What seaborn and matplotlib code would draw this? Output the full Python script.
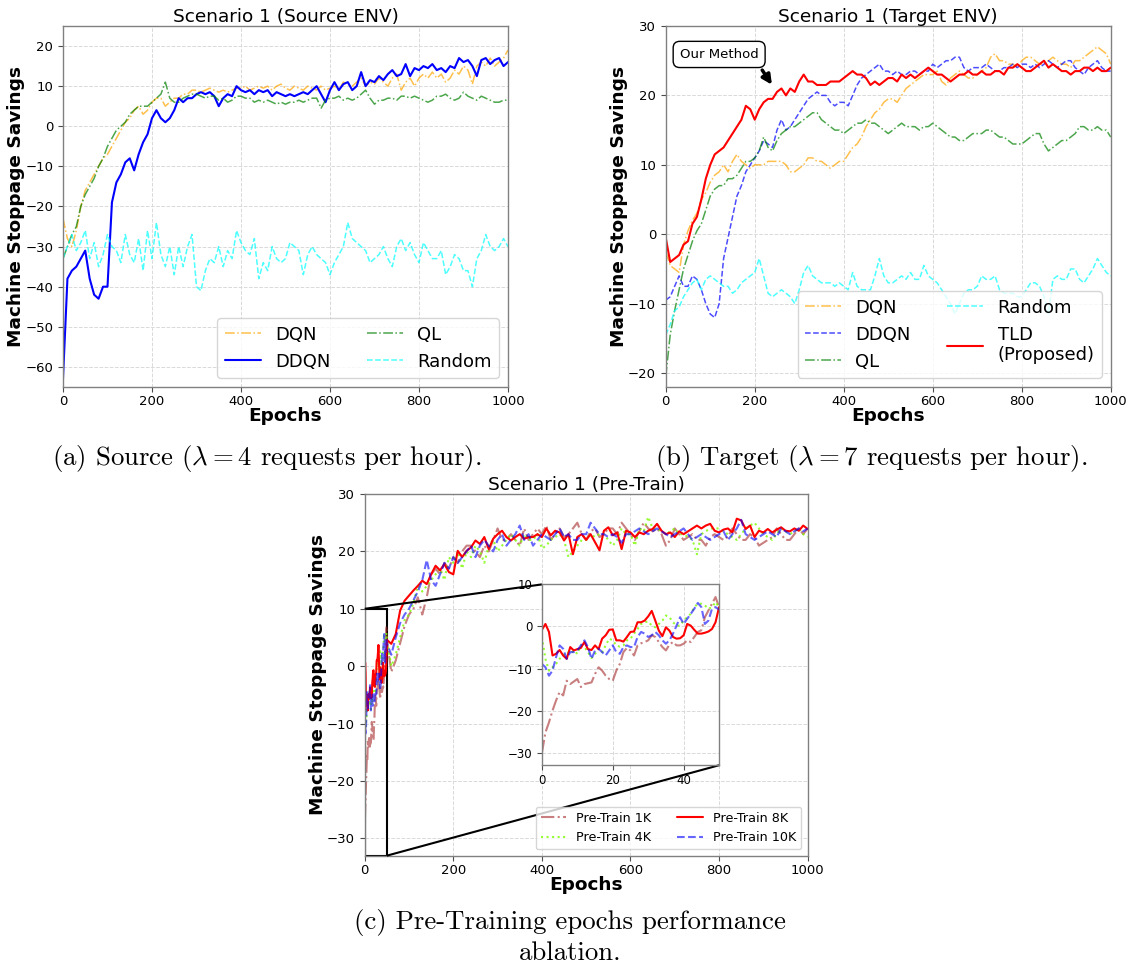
import numpy as np
import seaborn as sns
import matplotlib
matplotlib.use('Agg')
import matplotlib.pyplot as plt
from mpl_toolkits.axes_grid1.inset_locator import mark_inset

# ---------------- data ----------------
# panels (a) and (b): one value every 10 epochs
epochs = np.arange(0, 1001, 10)
# panel (c): every epoch for 0..50 (zoomed part), then every 10 epochs
zoom_epochs = np.arange(0, 51)
epochs_c = np.concatenate([zoom_epochs, np.arange(60, 1001, 10)])

# (a) Source ENV
dqn_src = [-23, -28, -30, -26, -20, -16, -14, -12, -10, -8,
           -7, -5, -3, -1, 1, 2, 4, 5, 3, 4,
           6, 7, 7, 5, 6, 7, 7, 8, 8, 9,
           9, 8.5, 9, 9.5, 9, 8.5, 9, 8.5, 9, 9.5,
           9.5, 10, 9, 9.5, 10, 9.5, 10, 9, 10, 10.5,
           9.5, 9, 10, 9.5, 9, 10, 9.5, 9, 10, 9,
           9.5, 10, 9, 11, 10.5, 10, 11, 12, 10, 11,
           10.5, 12, 11, 10, 12, 13, 9, 11, 12, 10,
           12, 13, 12, 13.5, 12, 13, 11, 12, 14, 13,
           15, 14, 10.5, 15, 16, 15, 17, 15, 16, 17,
           19]
ddqn_src = [-63, -38, -36, -35, -33, -31, -38, -42, -43, -40,
            -40, -19, -14, -12, -9, -8, -11, -7, -4, -2,
            2, 4, 2, 1, 2, 4, 7, 6, 7, 7,
            8, 8.5, 8, 8.5, 7.5, 5, 7, 8, 7.5, 10,
            9, 8.5, 9, 8, 9, 8.5, 9, 7.5, 8.5, 8,
            7.5, 8, 7.5, 8, 8.5, 8, 9, 10, 8, 6,
            9, 11, 9, 10.5, 11, 9, 10, 13.5, 10, 11.5,
            11, 12.5, 11.5, 13, 14, 12.5, 13, 15.5, 12.5, 14.5,
            14, 15, 14.5, 15.5, 14, 14.5, 13.5, 15, 14.5, 17,
            16, 16.5, 15, 12.5, 16.5, 17, 15.5, 16.5, 17, 15,
            16]
ql_src = [-33, -30, -27, -25, -20, -17, -15, -13, -10, -8,
          -5, -3, -1, 0, 1, 3, 4, 5, 5, 5,
          6, 7, 8, 11, 7, 6, 6, 7, 7.5, 8,
          8, 7.5, 7, 7.5, 7.5, 6.5, 7, 6, 6.5, 7.5,
          7.5, 7, 7, 6, 6.5, 6, 6.5, 6, 5.5, 6,
          5.5, 6, 6, 6.5, 6, 6.5, 7, 7, 4.5, 6.5,
          7, 7, 7.5, 6.5, 7, 6.5, 7, 8, 9, 7,
          5.5, 6.5, 6.5, 7, 7, 6.5, 7.5, 7.5, 7, 7.5,
          7, 6.5, 6, 6.5, 7.5, 7.5, 8, 7, 6.5, 7,
          8.5, 7.5, 7, 6.5, 7.5, 7, 6.5, 6, 6, 6.5,
          6.5]
random_src = [-33, -30, -27, -31, -29, -26, -33, -29, -35, -32,
              -27, -30, -31, -34, -27, -32, -34, -28, -36, -26,
              -33, -24, -32, -35, -30, -37, -30, -35, -30, -27,
              -40, -41, -36, -33, -34, -30, -35, -31, -33, -26,
              -29, -31, -32, -28, -38, -34, -36, -30, -33, -34,
              -33, -29, -30, -31, -37, -32, -30, -32, -33, -34,
              -37, -34, -32, -30, -24, -28, -29, -30, -31, -34,
              -33, -32, -30, -33, -35, -30, -28, -31, -29, -32,
              -34, -29, -31, -33, -33, -31, -37, -35, -32, -33,
              -36, -36, -40, -33, -31, -27, -30, -31, -30, -28,
              -30]

# (b) Target ENV
dqn_tgt = [-2.5, -4.5, -5, -5.5, -1.5, 0.5, 2, 3, 5, 6,
           7.5, 8.5, 9, 10, 9, 10.5, 11.5, 10.5, 10, 9.5,
           10, 10, 10, 10.5, 10.5, 10.5, 10.5, 10, 9, 9,
           9.5, 10, 11, 11, 10.5, 10.5, 10, 9.5, 10, 10.5,
           10.5, 11.5, 12.5, 13, 14, 15.5, 16.5, 17.5, 18, 19,
           19.5, 19.5, 19, 20, 21, 21.5, 22, 22.5, 23, 23,
           23, 23.5, 22, 21.5, 22.5, 23, 23.5, 23, 22.5, 22.5,
           23, 23.5, 24, 25.5, 26, 25, 25, 24.5, 24.5, 24,
           25, 25.5, 25.5, 25, 24.5, 24.5, 25, 25.5, 25, 24.5,
           24.5, 24, 25, 25, 25.5, 26, 26.5, 27, 26.5, 26,
           24.5]
ddqn_tgt = [-9.5, -9, -7.5, -6, -7.5, -7.5, -6, -6.5, -8, -10,
            -11.5, -12, -10, -3.5, -0.5, 2.5, 5.5, 7, 9, 10,
            11, 12, 13.5, 13, 12.5, 15, 16.5, 15, 15.5, 16.5,
            17.5, 18.5, 19.5, 20, 20.5, 20, 20, 19, 18.5, 19,
            19, 18.5, 20, 21.5, 22.5, 23, 23.5, 24, 24.5, 23.5,
            23.5, 23, 23.5, 23, 23, 23.5, 23.5, 23, 23.5, 23.5,
            24.5, 24, 24.5, 25, 25, 25.5, 25.5, 24, 23.5, 24,
            24, 24, 24.5, 24, 23.5, 23.5, 24, 24, 24.5, 24,
            24.5, 24.5, 24, 24.5, 24, 24.5, 25, 24.5, 24, 24.5,
            25, 25, 24, 23.5, 23, 24, 24.5, 25, 24, 23.5,
            23.5]
ql_tgt = [-20.5, -14.5, -11, -8, -5, -3, -1, 0.5, 1.5, 3.5,
          5.5, 6.5, 7, 7, 8, 8, 8.5, 9.5, 10.5, 10.5,
          11, 12, 14, 12.5, 12, 13.5, 14.5, 15, 15.5, 15.5,
          16, 16.5, 17, 17.5, 17.5, 16.5, 16, 15.5, 15, 15,
          14.5, 15, 15.5, 16, 16, 16.5, 16, 16, 15.5, 15,
          14.5, 15, 15.5, 16, 15.5, 15.5, 15.5, 15, 15.5, 15.5,
          16, 15.5, 15, 14.5, 14, 14, 13.5, 13.5, 14, 14.5,
          14.5, 14.5, 15, 15, 14.5, 14, 14, 13.5, 13, 13,
          13, 13.5, 14, 14.5, 14.5, 13, 12, 12.5, 13, 13.5,
          13.5, 14, 14.5, 15.5, 15.5, 15, 15, 15.5, 15, 15,
          14]
random_tgt = [-14.5, -13, -11, -10.5, -9, -8, -7, -6.5, -8, -6.5,
              -6, -6.5, -7, -7.5, -7.5, -8.5, -8, -7, -6.5, -6,
              -5.5, -3.5, -6, -8.5, -9, -8.5, -8, -8.5, -9, -10,
              -8, -5.5, -4.5, -6, -6.5, -7, -7, -7, -7.5, -7,
              -7.5, -8, -5.5, -7.5, -8, -8, -8, -6, -3.5, -6,
              -7, -7, -6.5, -6, -6.5, -5.5, -6.5, -6.5, -4.5, -6,
              -6.5, -7, -8, -9, -10, -11.5, -10, -8.5, -8, -8,
              -7.5, -6, -6.5, -6.5, -6, -8, -8.5, -8.5, -8.5, -9,
              -9, -8, -7, -7, -7.5, -9, -11.5, -6.5, -6, -6.5,
              -6.5, -5, -5, -6.5, -7, -6, -5, -3.5, -4.5, -5.5,
              -6]
tld_tgt = [-0.5, -4, -3.5, -3, -1.5, -1, 1.5, 2.5, 5, 8,
           10, 11.5, 12, 12.5, 13.5, 14.5, 15.5, 16.5, 18.5, 18,
           16.5, 18, 19, 19.5, 19.5, 20.5, 21, 20, 21, 20.5,
           22, 23, 22, 22, 21.5, 21.5, 21.5, 22, 22, 22,
           22.5, 23, 23.5, 23, 23, 22.5, 21.5, 22, 21.5, 22,
           22.5, 22.5, 22, 23, 22.5, 23, 22.5, 23, 23.5, 24,
           23.5, 23, 23, 22.5, 22, 22.5, 23, 23, 23.5, 23,
           23, 23.5, 23, 23, 23.5, 23.5, 23, 24, 24, 24.5,
           24, 23.5, 23.5, 24, 24.5, 25, 24, 24.5, 24, 23.5,
           23.5, 23, 23.5, 23.5, 24, 24, 23.5, 24, 23.5, 23.5,
           24]

# (c) Pre-Train ablation: epochs 0..50 (per epoch) + 60..1000 (every 10)
pre_1k = [-30.1, -25.2, -22.8, -20, -17.6, -15.6, -16.4, -12.9, -13.7, -13.1,
          -12.5, -14.4, -13.7, -13.5, -13.3, -11.3, -9.7, -10.5, -11.7, -12.5,
          -12.9, -10.5, -8.9, -6.1, -5.1, -5.7, -6.9, -4.5, -4.0, -3.7,
          -3.3, -2.1, -2.5, -3.7, -4.9, -5.7, -4.3, -3.7, -4.5, -4.5,
          -4.1, -3.3, -3.7, -2.5, -1.3, -0.9, 2.2, 3.8, 5.4, 7.0,
          4.6,
          -1, 1, 4, 7, 9, 10, 12, 9, 12, 16,
          17, 16, 18, 17, 19, 18, 20, 21, 21, 20,
          19, 21, 20, 22, 24, 22, 22, 23, 22, 21,
          24, 22, 23, 24, 23, 24.5, 22, 23, 24, 22.5,
          23, 24, 25, 23, 22, 23.5, 24, 22.5, 23, 24,
          24, 23, 25, 24, 23, 22, 23.5, 25, 24, 23.5,
          24, 23, 21, 22, 24, 23, 22, 22.5, 23, 22,
          22, 21, 22.5, 23, 22.5, 22, 22.5, 24, 23, 22,
          22, 23, 22.5, 21, 21.5, 22, 22.5, 24, 23, 22,
          22, 23, 24, 23, 24]
pre_4k = [-2.5, -7.7, -10.5, -9.7, -8.9, -7.7, -6.9, -6.1, -6.5, -5.7,
          -6.5, -4.5, -4.9, -6.1, -7.5, -6.5, -5.3, -6.1, -4.5, -2.9,
          -3.3, -4.5, -4.8, -4.5, -3.3, -2.9, -1.7, -0.6, 0.6, 1.0,
          1.2, 0.2, -0.2, 0.6, 1.4, 2.6, 2.2, 1.0, 0.2, 0.2,
          1.4, 2.2, 3.0, 4.6, 5.4, 5.4, 5.0, 4.2, 4.6, 5.8,
          4.6,
          0, 2, 5, 8, 9, 11, 14, 13, 14, 15,
          16, 17, 15, 19, 18, 20, 17, 20, 19, 21,
          20, 18, 21, 22, 20, 21, 22, 23, 22, 21,
          23, 22, 22, 23, 20.5, 21, 22, 22.5, 23, 22,
          19, 20, 21, 22, 22, 23, 22.5, 23, 23, 22,
          21, 22, 24, 23, 23, 21, 24, 23.5, 26, 24,
          24, 23.5, 23, 23.5, 24, 23, 23, 22.5, 22, 19.5,
          23, 23.5, 24, 24, 24, 23.5, 23, 22.5, 22, 23,
          24, 24.5, 25, 24, 23, 22.5, 22, 23, 24, 23.5,
          23, 23.5, 24, 23, 22.5]
pre_8k = [-0.8, 0.6, -1.3, -6.9, -6.5, -5.6, -6.9, -7.7, -4.9, -5.7,
          -5.4, -5.1, -3.7, -5.4, -5.6, -4.5, -5.4, -2.9, -2.1, -0.8,
          -0.7, -3.3, -3.3, -3.6, -2.5, -1.3, -1.2, 1.0, 1.0, 1.4,
          2.4, 3.7, 1.4, -1.0, -2.3, -0.2, -1.0, -2.5, -2.9, -2.8,
          -2.1, 0.6, 0.2, -0.8, -1.7, -1.7, -1.5, -1.2, -0.6, 1.0,
          4.6,
          3.9, 5.6, 9.7, 11.4, 12.3, 13.2, 14, 14.9, 14.3, 16,
          17.5, 16.7, 17.8, 16.4, 16, 20.1, 19, 20.1, 20.7, 21.9,
          21.3, 22.5, 20.4, 22.2, 23, 23.6, 22.5, 21.9, 22.5, 23,
          22.2, 22.5, 22.5, 23, 22.5, 24, 22.8, 23.6, 23.3, 21.9,
          23, 19.5, 22.5, 23, 22, 23, 21.6, 20.2, 23.6, 24.2,
          22.8, 23.3, 20.4, 23.6, 23.3, 22.5, 23.3, 23, 23.6, 23.9,
          24.8, 23.6, 23, 23.3, 22.5, 23.5, 23, 23.5, 24, 24.5,
          24, 24.5, 24.8, 23.6, 23.3, 23.8, 24, 23.3, 25.7, 25.4,
          23.9, 24.5, 22.5, 23.6, 23.3, 23.9, 23.3, 23.8, 24.2, 23.6,
          23.5, 24, 23.6, 24.5, 23.9]
pre_10k = [-8.9, -9.7, -11.7, -10.5, -7.3, -4.5, -5.3, -7.7, -6.1, -6.1,
           -5.7, -4.5, -3.3, -4.9, -7.7, -5.7, -5.3, -6.1, -6.9, -5.7,
           -4.5, -6.1, -6.5, -4.9, -4.5, -4.9, -4.9, -2.5, -1.3, -1.7,
           -2.5, -2.1, -1.3, -2.1, -3.3, -4.1, -3.3, -1.7, 0.2, 2.2,
           0.6, 1.8, 3.0, 4.2, 5.6, 4.6, 0.6, 1.4, 4.2, 4.6,
           4.0,
           2, 5, 7.5, 9, 10, 11.5, 13, 15, 18.5, 15,
           14, 16, 18, 17, 19, 18, 19, 20, 21, 19,
           21, 22, 21, 20, 22, 23, 21, 22, 23, 24.5,
           22, 23, 21, 22, 23, 22.5, 22, 23, 24, 22.5,
           23, 22, 22, 23, 23, 25, 24, 23, 23, 22.5,
           23, 22.5, 21.5, 23, 23, 23.5, 24, 23.5, 23, 23.5,
           24, 23.5, 23, 22.5, 23, 23.5, 24, 23, 22, 22.5,
           23, 22.5, 22, 22.5, 23, 23.5, 22, 23, 24, 25.5,
           23, 22.5, 22, 22.5, 23, 23.5, 23, 22.5, 24, 23.5,
           23, 23.5, 24, 23.5, 24]

# ---------------- style ----------------
sns.set_style('ticks')
plt.rcParams['font.family'] = ['DejaVu Sans']
plt.rcParams['mathtext.fontset'] = 'cm'
plt.rcParams['text.color'] = 'black'
plt.rcParams['axes.labelcolor'] = 'black'
plt.rcParams['axes.edgecolor'] = '0.5'
plt.rcParams['axes.linewidth'] = 1.0
plt.rcParams['xtick.major.size'] = 3.5
plt.rcParams['ytick.major.size'] = 3.5
plt.rcParams['xtick.major.pad'] = 2.5
plt.rcParams['xtick.color'] = '0.3'
plt.rcParams['ytick.color'] = '0.3'
plt.rcParams['xtick.labelcolor'] = 'black'
plt.rcParams['ytick.labelcolor'] = 'black'


def style_axes(ax, title, ylim, yticks):
    ax.set_xlim(0, 1000)
    ax.set_ylim(*ylim)
    ax.set_xticks(range(0, 1001, 200))
    ax.set_yticks(yticks)
    ax.grid(True, color='0.85', linestyle='--', linewidth=0.7)
    ax.set_title(title, fontsize=13.3, pad=3)
    ax.set_xlabel('Epochs', fontsize=13.3, fontweight='bold', labelpad=-1)
    ax.set_ylabel('Machine Stoppage Savings', fontsize=13.3, fontweight='bold', labelpad=0)
    ax.tick_params(labelsize=9.5)


fig = plt.figure(figsize=(11.39, 9.73), dpi=100)

# ---------------- (a) source ----------------
ax_a = fig.add_axes([0.0553, 0.6023, 0.3907, 0.3710])
sns.lineplot(x=epochs, y=dqn_src, ax=ax_a, color='orange', linestyle='-.', linewidth=1.1, alpha=0.7, label='DQN')
sns.lineplot(x=epochs, y=ddqn_src, ax=ax_a, color='blue', linestyle='-', linewidth=1.5, label='DDQN')
sns.lineplot(x=epochs, y=ql_src, ax=ax_a, color='green', linestyle='-.', linewidth=1.1, alpha=0.7, label='QL')
sns.lineplot(x=epochs, y=random_src, ax=ax_a, color='cyan', linestyle='--', linewidth=1.1, alpha=0.7, label='Random')
style_axes(ax_a, 'Scenario 1 (Source ENV)', (-65, 25), range(-60, 21, 10))
ax_a.legend(ncol=2, loc='lower right', fontsize=13)

# ---------------- (b) target ----------------
ax_b = fig.add_axes([0.5845, 0.6023, 0.3907, 0.3710])
sns.lineplot(x=epochs, y=dqn_tgt, ax=ax_b, color='orange', linestyle='-.', linewidth=1.1, alpha=0.7, label='DQN')
sns.lineplot(x=epochs, y=ddqn_tgt, ax=ax_b, color='blue', linestyle='--', linewidth=1.1, alpha=0.7, label='DDQN')
sns.lineplot(x=epochs, y=ql_tgt, ax=ax_b, color='green', linestyle='-.', linewidth=1.1, alpha=0.7, label='QL')
sns.lineplot(x=epochs, y=random_tgt, ax=ax_b, color='cyan', linestyle='--', linewidth=1.1, alpha=0.7, label='Random')
sns.lineplot(x=epochs, y=tld_tgt, ax=ax_b, color='red', linestyle='-', linewidth=1.5, label='TLD\n(Proposed)')
style_axes(ax_b, 'Scenario 1 (Target ENV)', (-22, 30), range(-20, 31, 10))
ax_b.legend(ncol=2, loc='lower right', fontsize=13)
ax_b.annotate('Our Method', xy=(242, 21.2), xytext=(120, 25.9), fontsize=9.5,
              ha='center', va='center',
              bbox=dict(boxstyle='round,pad=0.5', fc='white', ec='black'),
              arrowprops=dict(arrowstyle='-|>', color='black', lw=2.5, mutation_scale=14,
                              relpos=(0.97, 0.0)))

# ---------------- (c) pre-train ablation ----------------
ax_c = fig.add_axes([0.3202, 0.1206, 0.3889, 0.3717])
styles_c = [(pre_1k, 'brown', '-.', 0.6, 'Pre-Train 1K'),
            (pre_4k, 'lawngreen', ':', 0.8, 'Pre-Train 4K'),
            (pre_8k, 'red', '-', 1.0, 'Pre-Train 8K'),
            (pre_10k, 'blue', '--', 0.6, 'Pre-Train 10K')]
for vals, col, ls, al, lab in styles_c:
    sns.lineplot(x=epochs_c, y=vals, ax=ax_c, color=col, linestyle=ls, linewidth=1.5, alpha=al, label=lab)
style_axes(ax_c, 'Scenario 1 (Pre-Train)', (-33, 30), range(-30, 31, 10))
ax_c.legend(ncol=2, loc='lower right', fontsize=9.2)

# zoomed inset of the first 50 epochs
ax_in = ax_c.inset_axes([0.40, 0.25, 0.40, 0.50])
n_zoom = len(zoom_epochs)
for vals, col, ls, al, lab in styles_c:
    sns.lineplot(x=zoom_epochs, y=vals[:n_zoom], ax=ax_in, color=col, linestyle=ls,
                 linewidth=1.5, alpha=al, legend=False)
ax_in.set_xlim(0, 50)
ax_in.set_ylim(-33, 10)
ax_in.set_xticks([0, 20, 40])
ax_in.set_yticks([-30, -20, -10, 0, 10])
ax_in.grid(True, color='0.85', linestyle='--', linewidth=0.7)
ax_in.tick_params(labelsize=8.5)
ax_in.set_xlabel('')
ax_in.set_ylabel('')
mark_inset(ax_c, ax_in, loc1=2, loc2=4, fc='none', ec='black', lw=1.5)

# ---------------- captions ----------------
cap_font = dict(ha='center', va='center', fontsize=19.3, family='cmr10')
fig.text(0.234, 0.529, r'(a) Source ($\lambda = 4$ requests per hour).', **cap_font)
fig.text(0.7647, 0.529, r'(b) Target ($\lambda = 7$ requests per hour).', **cap_font)
fig.text(0.5004, 0.0524, '(c) Pre-Training epochs performance', **cap_font)
fig.text(0.5004, 0.0206, 'ablation.', **cap_font)

fig.savefig('out.png', dpi=100, facecolor='white')
